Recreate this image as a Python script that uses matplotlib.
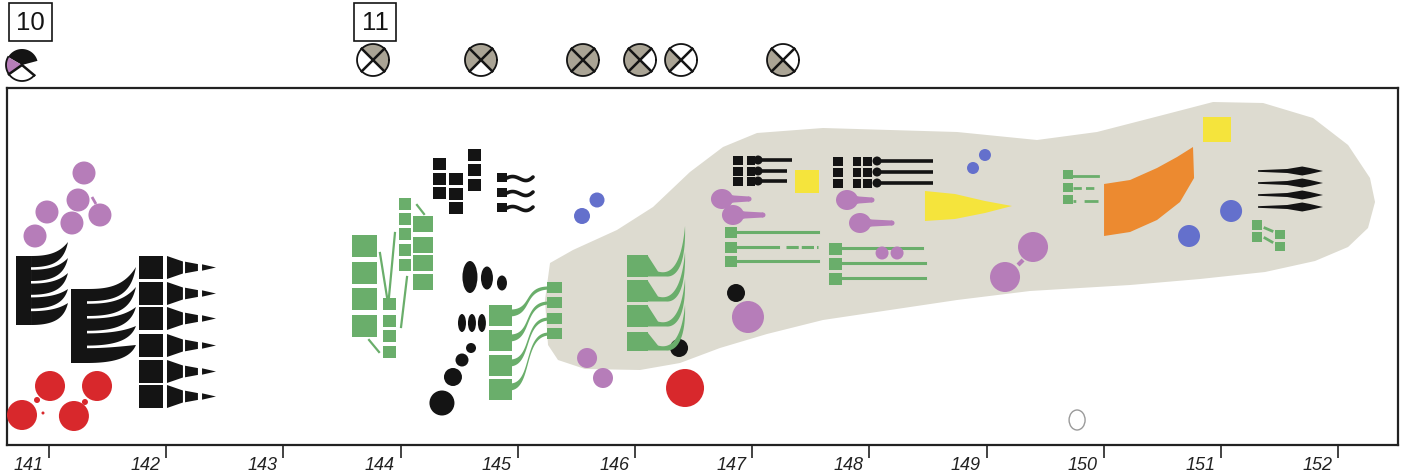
import numpy as np
import matplotlib
matplotlib.use('Agg')
import matplotlib.pyplot as plt
from matplotlib.patches import Polygon, Rectangle, Ellipse

S = 117.2  # screen pixels per measure, so round marks stay round

BLACK = '#141414'
PURPLE = '#b67db9'
RED = '#d8282c'
GREEN = '#6aae6b'
BLUE = '#6470cc'
YELLOW = '#f5e43c'
ORANGE = '#ec8a30'
FIELD = '#dddbd0'
HGREY = '#aaa495'

measures = list(range(141, 153))

# header above the frame
box_labels = ['10', '11']
box_x0 = [140.659, 143.602]
box_x1 = [141.026, 143.961]
first_wheel_x = 140.770
wheel_x = [143.765, 144.686, 145.556, 146.043, 146.393, 147.263]
wheel_grey = ['TR', 'TLR', 'TLRB', 'TLB', 'L', 'LB']

# grey field outline (x in measures, y register from top of frame)
field_x = [145.258, 145.343, 145.574, 146.043, 146.384, 146.725, 147.126, 147.604,
           148.176, 148.748, 149.370, 150.224, 150.821, 151.376, 151.802, 152.084,
           152.254, 152.314, 152.271, 152.084, 151.785, 151.359, 150.932, 150.505,
           149.942, 149.430, 148.748, 148.176, 147.604, 147.041, 146.751, 146.469,
           146.154, 145.846, 145.471, 145.275, 145.232]
field_y = [345, 360, 369, 370, 363, 348, 334, 320, 310, 300, 291, 285, 279, 272,
           261, 247, 228, 202, 178, 145, 118, 103, 102, 115, 132, 140, 132, 130,
           128, 133, 147, 172, 207, 230, 250, 263, 300]

# round marks
purple_x = [141.299, 141.248, 141.435, 140.983, 141.196, 140.881, 145.591, 145.727,
            146.964, 149.157, 149.396, 148.108, 148.236]
purple_y = [173, 200, 215, 212, 223, 236, 358, 378, 317, 277, 247, 253, 253]
purple_d = [23, 23, 23, 23, 23, 23, 20, 20, 32, 30, 30, 13, 13]

red_x = [141.009, 141.410, 140.770, 141.213, 146.427]
red_y = [386, 386, 415, 416, 388]
red_d = [30, 30, 30, 30, 38]
red_link_x = [140.898, 141.307, 140.949]
red_link_y = [400, 402, 413]
red_link_d = [6, 6, 3]

blue_x = [145.676, 145.548, 148.986, 148.884, 151.086, 150.727]
blue_y = [200, 216, 155, 168, 211, 236]
blue_d = [15, 16, 12, 12, 22, 22]

black_dot_x = [146.376, 146.862]
black_dot_y = [348, 293]
black_dot_d = [18, 18]

oval_x = [144.592, 144.737, 144.865, 144.524, 144.609, 144.694, 144.601, 144.524,
          144.447, 144.353]
oval_y = [277, 278, 283, 323, 323, 323, 348, 360, 377, 403]
oval_w = [15, 12, 10, 8, 8, 8, 10, 13, 18, 25]
oval_h = [32, 23, 15, 18, 18, 18, 10, 13, 18, 25]

# black fans
fan_x0 = [140.719, 141.188]
fan_xs = [140.847, 141.324]
fan_xr = [141.162, 141.742]
fan_top = [256, 289]
fan_bottom = [325, 363]
fan_tips = [[242, 258, 273, 289, 303], [267, 287, 307, 326, 345]]

# black blocks with tapering wedges at 142
block_x = (141.768, 141.973)
block_top = [256, 282, 307, 334, 360, 385]
block_h = 23
wedge_pieces = [(142.007, 142.143, 11.5, 6.0), (142.161, 142.271, 5.8, 3.4),
                (142.306, 142.425, 3.2, 0.0)]

# green clusters near 144
g144_cols = [(143.585, 143.799, [235, 262, 288, 315], 23),
             (143.850, 143.961, [298, 315, 330, 346], 13),
             (143.987, 144.089, [198, 213, 228, 244, 259], 13),
             (144.106, 144.277, [216, 237, 255, 274], 17)]
g144_links = [((143.824, 253), (143.884, 297)), ((143.952, 233), (143.901, 297)),
              ((144.055, 277), (144.004, 327)), ((143.731, 340), (143.816, 352)),
              ((144.140, 205), (144.200, 214))]

# black squares near 144.5
k144_cols = [(144.277, 144.388, [158, 173, 187], 13),
             (144.413, 144.533, [173, 188, 202], 13),
             (144.575, 144.686, [149, 164, 179], 13),
             (144.822, 144.908, [173, 188, 203], 10)]
wave_end = 145.130

# green squares with s-shaped tails near 145
g145_left = (144.754, 144.951, [305, 330, 355, 379], 22)
g145_right = (145.249, 145.377, [282, 297, 313, 328], 12)

# green horns at 146
horn_x = (145.932, 146.111)
horn_top = [255, 280, 305, 332]
horn_h = [23, 23, 23, 20]
horn_tip_x = 146.427
horn_tip_y = [226, 252, 279, 305]

# black key strokes
keys1_rows = [160, 171, 181]
keys1_cols = [(146.836, 146.921), (146.956, 147.024)]
keys1_head = 147.050
keys1_end = [147.340, 147.297, 147.297]
keys2_rows = [161, 172, 183]
keys2_cols = [(147.690, 147.775), (147.860, 147.928), (147.945, 148.022)]
keys2_head = 148.065
keys2_end = [148.543, 148.543, 148.543]

# yellow
yellow_sq = [(147.365, 147.570, 170, 193), (150.847, 151.086, 117, 142)]
yellow_wedge_x = [148.474, 148.730, 148.986, 149.217, 148.986, 148.730, 148.474]
yellow_wedge_y = [191, 194, 201, 206, 213, 219, 221]

# purple tadpoles
tad_x = [146.742, 146.836, 147.809, 147.920]
tad_y = [199, 215, 200, 223]
tad_end = [146.973, 147.092, 148.022, 148.193]

# green stalks
st147_sq = (146.768, 146.870)
st147_top = [227, 242, 256]
st147_y = [232, 247, 261]
st147_end = 147.561
st148_sq = (147.655, 147.766)
st148_top = [243, 258, 273]
st148_y = [248, 263, 278]
st148_end = [148.449, 148.475, 148.475]
st150_sq = (149.652, 149.737)
st150_top = [170, 183, 195]
st150_y = [176, 188, 201]
st150_end = 149.950

g151_sq = [(151.265, 151.350, 220, 230), (151.265, 151.350, 232, 242),
           (151.461, 151.546, 230, 239), (151.461, 151.546, 242, 251)]
g151_dash = [((151.375, 228), (151.435, 231)), ((151.375, 238), (151.435, 242))]

orange_x = [150.002, 150.224, 150.454, 150.625, 150.761, 150.770, 150.650, 150.454,
            150.224, 150.002]
orange_y = [184, 180, 168, 157, 147, 178, 202, 220, 232, 236]

spindle_x = (151.316, 151.870)
spindle_y = [171, 183, 195, 207]

egg = (149.772, 420, 16, 20)


def bez3(p0, p1, p2, p3, n=30):
    t = np.linspace(0, 1, n)[:, None]
    p0, p1, p2, p3 = [np.asarray(p, float) for p in (p0, p1, p2, p3)]
    return ((1 - t) ** 3 * p0 + 3 * t * (1 - t) ** 2 * p1
            + 3 * t ** 2 * (1 - t) * p2 + t ** 3 * p3)


def poly(ax, pts, color, z=3, clip=True):
    ax.add_patch(Polygon(pts, closed=True, fc=color, ec='none', zorder=z,
                         clip_on=clip))


def dot(ax, x, y, w, h, color, z=3):
    ax.add_patch(Ellipse((x, y), w / S, h, fc=color, ec='none', zorder=z))


def rect(ax, x0, x1, top, h, color, z=3):
    ax.add_patch(Rectangle((x0, top), x1 - x0, h, fc=color, ec='none', zorder=z))


def arc(x, y, r, t0, t1, n=40):
    th = np.radians(np.linspace(t0, t1, n))
    return np.column_stack([x + r * np.cos(th) / S, y - r * np.sin(th)])


fig = plt.figure(figsize=(14.02, 4.74), dpi=100)
ax = fig.add_axes([7 / 1402, 29 / 474, 1391 / 1402, 357 / 474])
ax.set_xlim(140.642, 152.510)
ax.set_ylim(445, 88)
for sp in ax.spines.values():
    sp.set_linewidth(1.6)
    sp.set_color('#222222')
ax.set_yticks([])
ax.set_xticks(measures)
ax.tick_params(axis='x', direction='out', length=9, width=1.2, color='#222222',
               labelbottom=False)
for m in measures:
    ax.text(m - 0.05, 466, str(m), ha='right', va='center', fontsize=13,
            style='italic', family='Liberation Sans', color='#222222', clip_on=False)

# header boxes
for lab, a, b in zip(box_labels, box_x0, box_x1):
    ax.add_patch(Rectangle((a, 3), b - a, 38, fc='white', ec=BLACK, lw=1.2,
                           clip_on=False))
    ax.text((a + b) / 2, 23, lab, ha='center', va='center', fontsize=18.5,
            family='Liberation Sans', color=BLACK, clip_on=False)

# first wheel (section 10)
wy, wr = 65, 16
poly(ax, np.vstack([[(first_wheel_x, wy)], arc(first_wheel_x, wy, wr, 15, 150)]),
     BLACK, clip=False)
poly(ax, np.vstack([[(first_wheel_x, wy)], arc(first_wheel_x, wy, wr, 150, 215)]),
     PURPLE, clip=False)
edge = arc(first_wheel_x, wy, wr, 150, 320)
ax.plot(edge[:, 0], edge[:, 1], color=BLACK, lw=1.3, clip_on=False, zorder=4)
for ang in (215, 320):
    p = arc(first_wheel_x, wy, wr, ang, ang, 1)[0]
    ax.plot([first_wheel_x, p[0]], [wy, p[1]], color=BLACK, lw=1.8, clip_on=False,
            zorder=4)

# crossed wheels
quads = {'R': (-45, 45), 'T': (45, 135), 'L': (135, 225), 'B': (225, 315)}
wy = 60
for x, g in zip(wheel_x, wheel_grey):
    poly(ax, arc(x, wy, wr, 0, 360), 'white', clip=False)
    for q in g:
        t0, t1 = quads[q]
        poly(ax, np.vstack([[(x, wy)], arc(x, wy, wr, t0, t1)]), HGREY, clip=False)
    ring = arc(x, wy, wr, 0, 360, 80)
    ax.plot(ring[:, 0], ring[:, 1], color=BLACK, lw=1.3, clip_on=False, zorder=4)
    for ang in (45, 135):
        p, q = arc(x, wy, wr, ang, ang, 1)[0], arc(x, wy, wr, ang + 180, ang + 180, 1)[0]
        ax.plot([p[0], q[0]], [p[1], q[1]], color=BLACK, lw=1.8, clip_on=False,
                zorder=4)

# grey field
poly(ax, np.column_stack([field_x, field_y]), FIELD, z=1)

# round marks
for xs, ys, ds, c in [(purple_x, purple_y, purple_d, PURPLE), (red_x, red_y, red_d, RED),
                      (red_link_x, red_link_y, red_link_d, RED),
                      (blue_x, blue_y, blue_d, BLUE),
                      (black_dot_x, black_dot_y, black_dot_d, BLACK)]:
    for x, y, d in zip(xs, ys, ds):
        dot(ax, x, y, d, d, c)
ax.plot([141.367, 141.401], [197, 204], color=PURPLE, lw=2, solid_capstyle='butt')
ax.plot([149.268, 149.311], [265, 260], color=PURPLE, lw=3, solid_capstyle='butt')
for x, y, w, h in zip(oval_x, oval_y, oval_w, oval_h):
    dot(ax, x, y, w, h, BLACK)

# black fans
for x0, xs, xr, top, bot, tips in zip(fan_x0, fan_xs, fan_xr, fan_top, fan_bottom, fan_tips):
    rect(ax, x0, xs, top, bot - top, BLACK)
    band = (bot - top) / len(tips)
    for i, tip in enumerate(tips):
        yt = top + i * band
        yb = yt + band - (2.6 if i < len(tips) - 1 else 0)
        dx = xr - xs
        upper = bez3((xs, yt), (xs + 0.4 * dx, yt), (xs + 0.75 * dx, yt - 2), (xr, tip))
        lower = bez3((xr, tip), (xs + 0.9 * dx, yb - 6), (xs + 0.6 * dx, yb), (xs, yb))
        poly(ax, np.vstack([upper, lower]), BLACK)

# black blocks with wedges
for top in block_top:
    rect(ax, block_x[0], block_x[1], top, block_h, BLACK)
    yc = top + block_h / 2
    for xa, xb, ha, hb in wedge_pieces:
        poly(ax, [(xa, yc - ha), (xb, yc - hb), (xb, yc + hb), (xa, yc + ha)], BLACK)

# green squares near 144
for x0, x1, tops, h in g144_cols:
    for t in tops:
        rect(ax, x0, x1, t, h - 1.5, GREEN)
for (a, b) in g144_links:
    ax.plot([a[0], b[0]], [a[1], b[1]], color=GREEN, lw=1.6)

# black squares with wavy tails
for x0, x1, tops, h in k144_cols:
    for t in tops:
        rect(ax, x0, x1, t, h - 1.5, BLACK)
wx0 = k144_cols[-1][1]
for t in k144_cols[-1][2]:
    y = t + 5
    c = bez3((wx0, y), (wx0 + 0.45 * (wave_end - wx0), y - 6),
             (wx0 + 0.6 * (wave_end - wx0), y + 9), (wave_end, y - 1))
    ax.plot(c[:, 0], c[:, 1], color=BLACK, lw=2.6, solid_capstyle='round')

# green squares with s tails
lx0, lx1, ltops, lh = g145_left
rx0, rx1, rtops, rh = g145_right
for lt, rt in zip(ltops, rtops):
    rect(ax, lx0, lx1, lt, lh - 1.5, GREEN)
    rect(ax, rx0, rx1, rt, rh - 1.5, GREEN)
    yl, yr = lt + 8, rt + 6
    dx = rx0 - lx1
    c = bez3((lx1 - 0.02, yl), (lx1 + 0.6 * dx, yl), (lx1 + 0.3 * dx, yr), (rx0 + 0.02, yr))
    w = np.linspace(7, 3, len(c))
    poly(ax, np.vstack([np.column_stack([c[:, 0], c[:, 1] - w / 2]),
                        np.column_stack([c[::-1, 0], c[::-1, 1] + w[::-1] / 2])]), GREEN)

# green horns: notch from the square's top corner, hook rising to a point
hx0, hx1 = horn_x
dpx = (horn_tip_x - hx1) * S
for top, h, tip in zip(horn_top, horn_h, horn_tip_y):
    hh = h - 1.5
    rect(ax, hx0, hx1, top, hh, GREEN)
    inner = np.vstack([[(0, top + 1)],
                       bez3((10, top + hh - 5), (20, top + hh - 2), (dpx - 4, top + hh - 6),
                            (dpx, tip))])
    outer = np.vstack([bez3((dpx, tip), (dpx + 1, top + hh - 12), (dpx - 8, top + hh + 1),
                            (18, top + hh)), [(0, top + hh)]])
    pts = np.vstack([inner, outer])
    pts[:, 0] = hx1 + pts[:, 0] / S
    poly(ax, pts, GREEN)

# black key strokes
for rows, cols, head, ends in [(keys1_rows, keys1_cols, keys1_head, keys1_end),
                               (keys2_rows, keys2_cols, keys2_head, keys2_end)]:
    for y, e in zip(rows, ends):
        for a, b in cols:
            rect(ax, a, b, y - 4.5, 9, BLACK)
        dot(ax, head, y, 9, 9, BLACK)
        ax.plot([head, e], [y, y], color=BLACK, lw=2.6, solid_capstyle='butt')

# yellow
for a, b, t, bt in yellow_sq:
    rect(ax, a, b, t, bt - t, YELLOW)
poly(ax, np.column_stack([yellow_wedge_x, yellow_wedge_y]), YELLOW)

# purple tadpoles
for hx, hy, tx in zip(tad_x, tad_y, tad_end):
    dot(ax, hx, hy, 22, 20, PURPLE)
    poly(ax, [(hx, hy - 6), (hx + 12 / S, hy - 3.5), (tx, hy - 2.5), (tx, hy + 2.5),
              (hx + 12 / S, hy + 3.5), (hx, hy + 6)], PURPLE)
    dot(ax, tx, hy, 5, 5, PURPLE)

# green stalks
for t, y in zip(st147_top, st147_y):
    rect(ax, st147_sq[0], st147_sq[1], t, 11, GREEN)
for i, y in enumerate(st147_y):
    if i == 1:
        ax.plot([st147_sq[1], 147.220], [y, y], color=GREEN, lw=2.2)
        ax.plot([147.285, st147_end], [y, y], color=GREEN, lw=2.2, ls=(0, (4, 1)))
    else:
        ax.plot([st147_sq[1], st147_end], [y, y], color=GREEN, lw=2.2)
for t, y, e in zip(st148_top, st148_y, st148_end):
    rect(ax, st148_sq[0], st148_sq[1], t, 12, GREEN)
    ax.plot([st148_sq[1], e], [y, y], color=GREEN, lw=2.2)
st150_style = ['-', (0, (3, 1.5)), (0, (1, 3, 5, 1))]
for t, y, ls in zip(st150_top, st150_y, st150_style):
    rect(ax, st150_sq[0], st150_sq[1], t, 9, GREEN)
    ax.plot([st150_sq[1], st150_end], [y, y], color=GREEN, lw=2.0, ls=ls)
for a, b, t, bt in g151_sq:
    rect(ax, a, b, t, bt - t, GREEN)
for a, b in g151_dash:
    ax.plot([a[0], b[0]], [a[1], b[1]], color=GREEN, lw=2.0)

# orange band
poly(ax, np.column_stack([orange_x, orange_y]), ORANGE)

# black spindles
sx0, sx1 = spindle_x
L = (sx1 - sx0) * S
for y in spindle_y:
    prof = [(0, 0.8), (0.45 * L, 2.0), (0.68 * L, 4.5), (0.8 * L, 3.0), (L, 0)]
    top_e = [(sx0 + p / S, y - h) for p, h in prof]
    bot_e = [(sx0 + p / S, y + h) for p, h in prof[::-1]]
    poly(ax, top_e + bot_e, BLACK)

# small outline egg
ax.add_patch(Ellipse((egg[0], egg[1]), egg[2] / S, egg[3], fc='white', ec='#9a9a9a',
                     lw=1.0, zorder=3))

fig.savefig('out.png', dpi=100)
